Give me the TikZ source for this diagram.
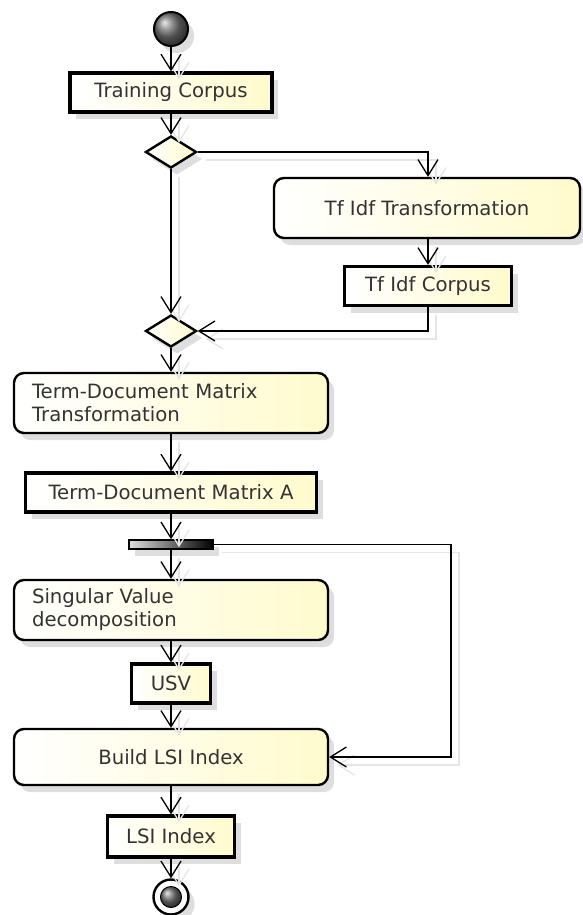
\documentclass[tikz,border=0pt]{standalone}
\usepackage{fontspec}
\setmainfont{DejaVu Sans}
\usetikzlibrary{shapes.geometric,arrows.meta,shadows}
\definecolor{paleY}{RGB}{255,251,205}
\tikzset{
 base/.style={font=\fontsize{19.7}{23}\selectfont, text=black!80, inner sep=0pt,
   drop shadow={shadow xshift=6pt,shadow yshift=-7pt,fill=black!13,opacity=1}},
 act/.style={base, draw=black, line width=2.4pt, rounded corners=10pt, left color=white, right color=paleY, minimum height=60pt},
 obj/.style={base, draw=black, line width=3.2pt, left color=white, right color=paleY, minimum height=39pt},
 dec/.style={base, diamond, draw=black, line width=2.4pt, left color=white, right color=paleY, minimum width=51pt, minimum height=32pt},
 flow/.style={draw=black, line width=1.3pt, -{Straight Barb[length=16pt,width=20pt]}},
 ghostflow/.style={draw=black!10, line width=1.3pt, -{Straight Barb[length=16pt,width=20pt]}, transform canvas={shift={(8pt,-8pt)}}},
}
\newcommand\flowline[1]{\draw[ghostflow] #1; \draw[flow] #1;}
\begin{document}
\begin{tikzpicture}[x=1pt,y=-1pt]
\useasboundingbox (0,0) rectangle (582,915);
% nodes
\node[base, circle, draw=black, line width=2pt, minimum size=34pt, ball color=black!55] (init) at (171,29) {};
\node[obj, minimum width=202pt] (tc) at (171,92.5) {Training Corpus};
\node[dec] (d1) at (171,152) {};
\node[act, minimum width=306pt] (tft) at (427,208) {Tf Idf Transformation};
\node[obj, minimum width=167pt] (tfc) at (428,286) {Tf Idf Corpus};
\node[dec] (d2) at (171,331) {};
\node[act, text width=278pt, inner xsep=18pt, align=left] (tdmt) at (171,403) {Term-Document Matrix\\Transformation};
\node[obj, minimum width=291pt] (tdma) at (171,492.5) {Term-Document Matrix A};
\node[base, draw=black, line width=1.5pt, left color=black!12, right color=black, minimum width=84pt, minimum height=9pt] (fork) at (171,544.5) {};
\node[act, text width=278pt, inner xsep=18pt, align=left] (svd) at (171,610) {Singular Value\\decomposition};
\node[obj, minimum width=79pt] (usv) at (171,683.5) {USV};
\node[act, minimum width=314pt, minimum height=56pt] (build) at (171,757) {Build LSI Index};
\node[obj, minimum width=127pt, minimum height=41pt] (lsi) at (171,836.5) {LSI Index};
\node[base, circle, draw=black, line width=2.4pt, fill=white, minimum size=35pt] (final) at (171,897) {};
\node[circle, draw=black, line width=1pt, minimum size=21pt, inner sep=0pt, ball color=black!55] (finalin) at (final) {};
\coordinate (bend) at (451,544.5);
% connectors
\flowline{(init) -- (tc)}
\flowline{(tc) -- (d1)}
\flowline{(d1.east) -| (tft.north -| tfc.north)}
\flowline{(d1) -- (d2)}
\flowline{(tft.south -| tfc.north) -- (tfc.north)}
\flowline{(tfc.south) |- (d2.east)}
\flowline{(d2) -- (tdmt)}
\flowline{(tdmt) -- (tdma)}
\flowline{(tdma) -- (fork)}
\flowline{(fork) -- (svd)}
\flowline{(fork.east) -- (bend) |- (build.east)}
\flowline{(svd) -- (usv)}
\flowline{(usv) -- (build)}
\flowline{(build) -- (lsi)}
\flowline{(lsi) -- (final)}
\end{tikzpicture}
\end{document}
